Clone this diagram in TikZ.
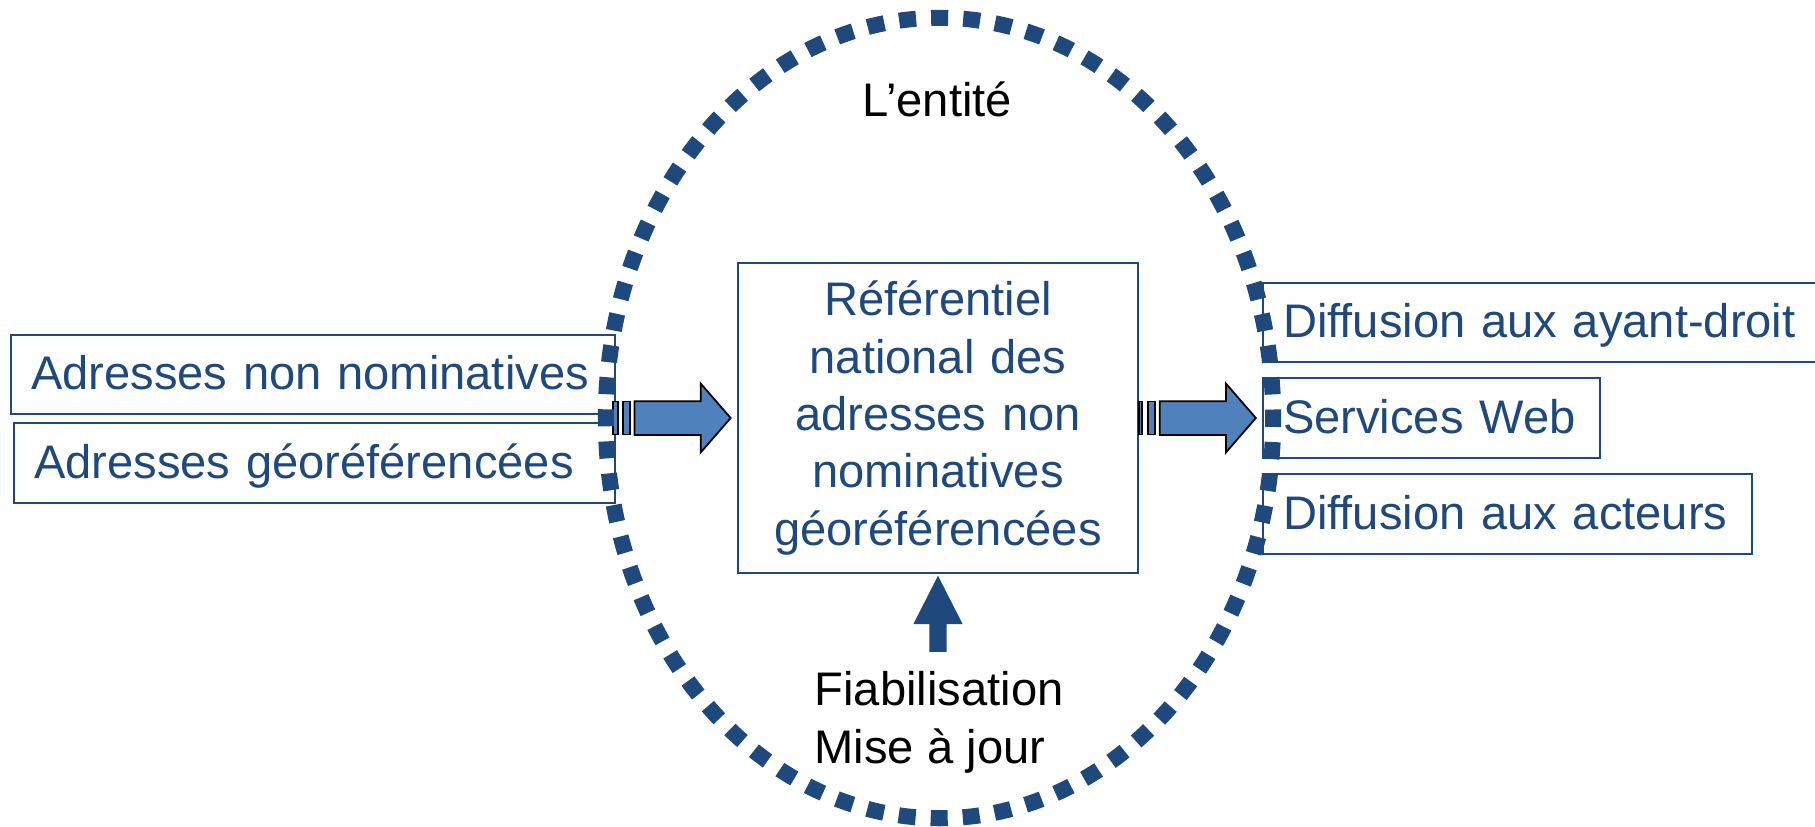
\documentclass[tikz,border=0pt]{standalone}
\usepackage{fontspec}
\setmainfont{Liberation Sans}
\usetikzlibrary{positioning,shapes.arrows}
\definecolor{ptblue}{RGB}{31,73,125}
\definecolor{arrowblue}{RGB}{79,129,189}

\begin{document}
\begin{tikzpicture}[x=0.01cm, y=-0.01cm,
  every node/.style = {font=\fontsize{13.4}{16.3}\selectfont},
  flowbox/.style = {draw=ptblue, line width=0.6pt, text=ptblue,
    inner xsep=0.2cm, inner ysep=0pt, align=left},
  listbox/.style = {flowbox, text height=0.35cm, text depth=0.05cm},
  bigarrow/.style = {single arrow, draw=black, line width=0.5pt,
    fill=arrowblue, inner xsep=0pt, inner ysep=0.16cm,
    single arrow head extend=0.175cm, single arrow tip angle=98,
    single arrow head indent=0pt, minimum height=0.96cm},
  stripe/.style = {draw=black, line width=0.5pt, fill=arrowblue,
    inner sep=0pt, minimum height=0.33cm},
  uparrow/.style = {single arrow, fill=ptblue, inner xsep=0.08cm,
    inner ysep=0pt, single arrow head extend=0.16cm,
    single arrow tip angle=54, single arrow head indent=0pt,
    minimum height=0.76cm, shape border rotate=90},
  plain/.style = {inner sep=0pt, align=left}
  ]
  \useasboundingbox (0,0) rectangle (1815,826);
  \clip (0,0) rectangle (1815,826);

  \node[listbox, text width=5.64cm, minimum height=0.79cm, anchor=west]
    (nonnom) at (10,374.5) {Adresses non nominatives};
  \node[listbox, text width=5.61cm, minimum height=0.80cm, anchor=west]
    (georef) at (13,463) {Adresses géoréférencées};

  \node[flowbox, align=center, text width=3.6cm, minimum height=3.10cm]
    (referentiel) at (938,418)
    {Référentiel\\national des\\adresses non\\nominatives\\géoréférencées};

  \node[listbox, text width=5.18cm, minimum height=0.79cm, anchor=west]
    (ayantdroit) at (1262,322.5) {Diffusion aux ayant-droit};
  \node[listbox, text width=2.97cm, minimum height=0.80cm, anchor=west]
    (web) at (1262,418) {Services Web};
  \node[listbox, text width=4.49cm, minimum height=0.80cm, anchor=west]
    (acteurs) at (1262,514) {Diffusion aux acteurs};

  % striped block arrows in and out
  \node[bigarrow, anchor=tip] (inarrow) at ([xshift=-0.05cm]referentiel.west) {};
  \node[stripe, minimum width=0.07cm, left=0.03cm of inarrow.tail] (instripeb) {};
  \node[stripe, minimum width=0.05cm, left=0.03cm of instripeb] (instripea) {};

  \node[bigarrow, anchor=tip] (outarrow) at ([xshift=-0.05cm]web.west) {};
  \node[stripe, minimum width=0.07cm, left=0.03cm of outarrow.tail] (outstripeb) {};
  \node[stripe, minimum width=0.035cm, left=0.04cm of outstripeb] (outstripea) {};

  \node[uparrow, anchor=tip] (fixarrow) at (referentiel.south) {};

  \node[plain, anchor=base west] (entite) at (862,116) {L’entité};
  \node[plain, anchor=north west] (fiab) at (814,671) {Fiabilisation\\Mise à jour};

  % dotted boundary of the entity
  \draw[ptblue, line width=0.16cm, dash pattern=on 0.17cm off 0.1507cm,
    dash phase=0.085cm] (939.5,418) ellipse [x radius=3.335cm, y radius=4cm];
\end{tikzpicture}
\end{document}
